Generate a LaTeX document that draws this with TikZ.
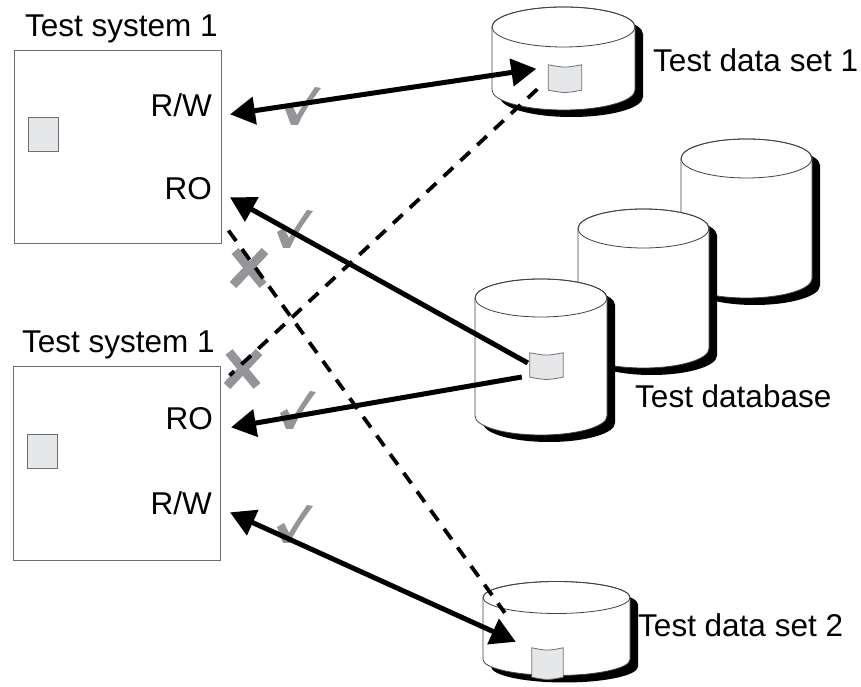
\documentclass[tikz,border=0pt]{standalone}
\usepackage{fontspec}
\setmainfont{Liberation Sans}
\usepackage{tikz}
\usetikzlibrary{arrows.meta, positioning, calc}
\definecolor{boxgray}{RGB}{109,110,113}
\definecolor{tabgray}{RGB}{230,231,232}
\definecolor{markgray}{RGB}{147,149,152}
\definecolor{drumline}{RGB}{65,64,66}
\newcommand{\bigfont}{\fontsize{31.5}{37}\selectfont}
% cylinder: centre x, top y, x radius, y radius, height
\newcommand{\diskcyl}[5]{%
  \fill[black] (#1-#3+8,#2-7) -- ++(0,-#5)
    arc[start angle=180, end angle=360, x radius=#3, y radius=#4] -- ++(0,#5)
    arc[start angle=0, end angle=180, x radius=#3, y radius=#4] -- cycle;
  \filldraw[fill=white, draw=drumline, line width=0.8pt] (#1-#3,#2) -- ++(0,-#5)
    arc[start angle=180, end angle=360, x radius=#3, y radius=#4] -- ++(0,#5)
    arc[start angle=0, end angle=180, x radius=#3, y radius=#4] -- cycle;
  \draw[drumline, line width=0.8pt] (#1,#2) ellipse [x radius=#3, y radius=#4];
}
\tikzset{
  sysbox/.style={rectangle, draw=boxgray, fill=white, line width=1pt, inner sep=0pt},
  title/.style={anchor=base west, inner sep=0pt, font=\bigfont},
  port/.style={anchor=base east, inner xsep=18pt, inner ysep=0pt, font=\bigfont},
  chip/.style={rectangle, draw=boxgray, fill=tabgray, line width=1pt,
    minimum width=30pt, minimum height=34pt, inner sep=0pt},
  tab/.style={rectangle, minimum width=33pt, minimum height=25pt, inner sep=0pt},
  arrow/.style={-{Triangle[length=25pt, width=27pt]}, line width=5pt},
  biarrow/.style={{Triangle[length=25pt, width=27pt]}-{Triangle[length=25pt, width=27pt]}, line width=5pt},
  dashline/.style={line width=3.8pt, dash pattern=on 13pt off 10pt},
  okmark/.pic={\fill[markgray] (0,15) -- (7,19) -- (12,9)
    .. controls (19,21) and (26,31) .. (30,37) -- (36,36)
    .. controls (27,24) and (18,11) .. (13,-1) -- (6,-1) -- cycle;},
  nomark/.pic={\draw[markgray, line width=9pt]
    (-16,-17) -- (16,17) (-14,17) -- (14,-17);}
}

\begin{document}
\begin{tikzpicture}[x=1pt, y=1pt]
  \useasboundingbox (0,0) rectangle (861,687);

  % Storage
  \diskcyl{563.5}{660}{71.5}{20}{63}
  \diskcyl{746.5}{528.5}{65.5}{19.5}{120}
  \diskcyl{643.5}{458.5}{65.5}{19.5}{120}
  \diskcyl{541}{389}{66}{19}{118}
  \diskcyl{556.5}{89.5}{73.5}{16}{62}

  \node[tab] (tabA) at (565,609.5) {};
  \node[tab, minimum height=24pt] (tabD) at (546.5,322) {};
  \node[tab, minimum width=31pt, minimum height=29pt] (tabB) at (547.5,24.5) {};
  \foreach \t in {tabA, tabD, tabB}
    \filldraw[fill=tabgray, draw=boxgray, line width=0.8pt]
      (\t.north west) .. controls ($(\t.north)+(0,-3)$) .. (\t.north east)
      -- (\t.south east) .. controls ($(\t.south)+(0,-3)$) .. (\t.south west) -- cycle;

  \node[title] (dsAlbl) at (653,615) {Test data set 1};
  \node[title] (dblbl) at (635,279) {Test database};
  \node[title] (dsBlbl) at (638,50) {Test data set 2};

  % Test systems
  \node[sysbox, minimum width=207pt, minimum height=193pt] (sysA) at (117.5,539.5) {};
  \node[sysbox, minimum width=207pt, minimum height=194pt] (sysB) at (116.5,223) {};
  \node[title] (sysAlbl) at (25,650) {Test system 1};
  \node[title] (sysBlbl) at (22,334) {Test system 1};
  \node[chip] (chipA) at (43,552) {};
  \node[chip] (chipB) at (42,235) {};
  \node[port] (rwA) at (230,570) {R/W};
  \node[port] (roA) at (230,487) {RO};
  \node[port] (roB) at (231,257) {RO};
  \node[port] (rwB) at (230,172) {R/W};

  % Marks
  \pic at (285,563) {okmark};
  \pic at (277,440) {okmark};
  \pic at (280,259) {okmark};
  \pic at (277,145) {okmark};
  \pic at (249,419) {nomark};
  \pic at (243,318) {nomark};

  % Connections
  \draw[biarrow] (rwA.mid east) -- ([shift={(-12,-4)}]tabA.north west);
  \draw[arrow] ([shift={(-2,2)}]tabD.west) -- (roA.mid east);
  \draw[arrow] ([shift={(-8,-12)}]tabD.west) -- (roB.mid east);
  \draw[biarrow] (rwB.mid east) -- ([shift={(-16,6)}]tabB.north west);
  \draw[dashline] ([shift={(-11,1)}]tabA.south west) -- ([shift={(9,-9)}]sysB.north east);
  \draw[dashline] ([shift={(7,14)}]sysA.south east) -- ([shift={(-27,35)}]tabB.north west);
\end{tikzpicture}
\end{document}
